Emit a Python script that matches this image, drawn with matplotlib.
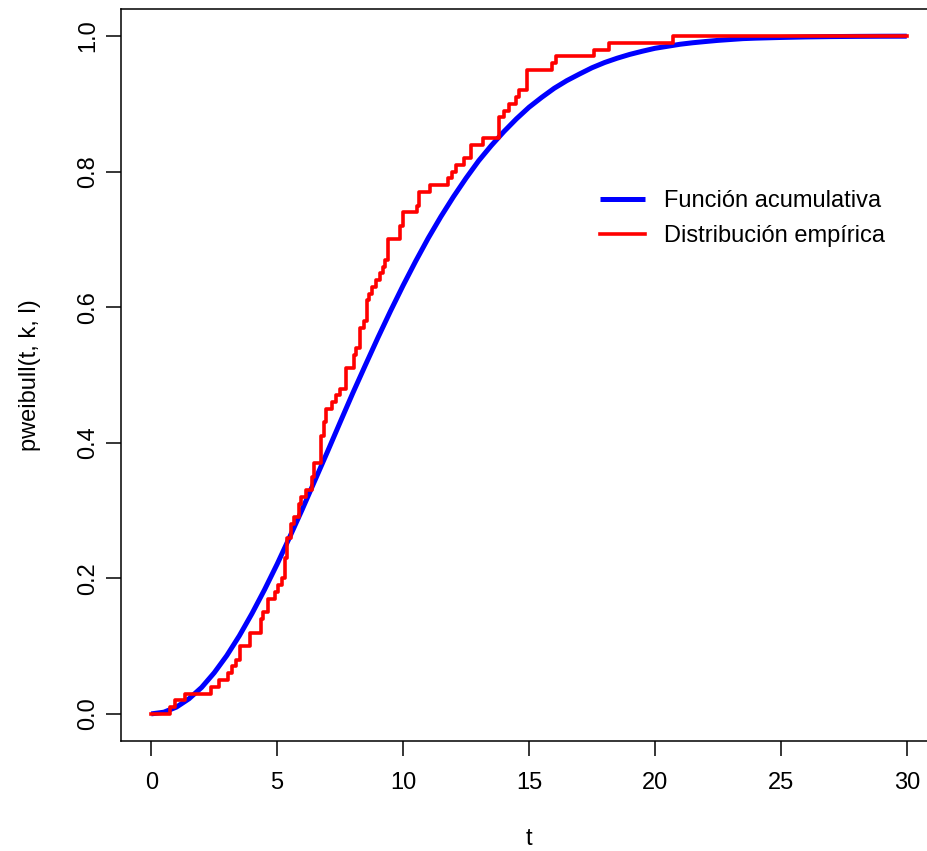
import matplotlib
matplotlib.use("Agg")
import matplotlib.pyplot as plt

# Theoretical CDF
t_cdf = [0, 0.5, 1, 1.5, 2, 2.5, 3, 3.5, 4, 4.5, 5, 5.5, 6, 6.5, 7, 7.5, 8, 8.5, 9, 9.5,
         10, 10.5, 11, 11.5, 12, 12.5, 13, 13.5, 14, 14.5, 15, 15.5, 16, 16.5, 17, 17.5,
         18, 18.5, 19, 19.5, 20, 20.5, 21, 21.5, 22, 22.5, 23, 23.5, 24, 25, 26, 27,
         28, 29, 30]
F_cdf = [0.0, 0.0025, 0.010, 0.0223, 0.039, 0.0606, 0.086, 0.1153, 0.148, 0.1833,
         0.221, 0.2610, 0.302, 0.3445, 0.387, 0.4302, 0.473, 0.5143, 0.555, 0.5943,
         0.632, 0.6679, 0.702, 0.7336, 0.763, 0.7904, 0.816, 0.8384, 0.859, 0.8779,
         0.895, 0.9095, 0.923, 0.9343, 0.944, 0.9533, 0.961, 0.9674, 0.973, 0.9777,
         0.982, 0.9850, 0.988, 0.9902, 0.992, 0.9937, 0.995, 0.9963, 0.997, 0.998,
         0.9988, 0.9993, 0.9996, 0.9998, 0.9999]

# Empirical step function: jump positions and levels after each jump
t_emp = [0.0, 0.73, 0.95, 1.35, 2.37, 2.70, 3.06, 3.20, 3.37, 3.53, 3.93, 4.35, 4.45,
         4.64, 4.91, 5.05, 5.18, 5.30, 5.40, 5.54, 5.67, 5.85, 5.94, 6.15, 6.37,
         6.47, 6.75, 6.86, 6.94, 7.17, 7.34, 7.50, 7.72, 8.05, 8.13, 8.27, 8.43,
         8.58, 8.66, 8.76, 8.93, 9.09, 9.22, 9.29, 9.42, 9.88, 9.99, 10.54, 10.65,
         11.07, 11.80, 11.93, 12.10, 12.40, 12.69, 13.19, 13.79, 14.00, 14.22,
         14.48, 14.62, 14.91, 15.90, 16.07, 17.58, 18.19, 20.73, 30.0]
F_emp = [0.0, 0.01, 0.02, 0.03, 0.04, 0.05, 0.06, 0.07, 0.08, 0.10, 0.12, 0.14, 0.15,
         0.17, 0.18, 0.19, 0.20, 0.23, 0.26, 0.28, 0.29, 0.31, 0.32, 0.33, 0.35,
         0.37, 0.41, 0.43, 0.45, 0.46, 0.47, 0.48, 0.51, 0.53, 0.54, 0.57, 0.58,
         0.61, 0.62, 0.63, 0.64, 0.65, 0.66, 0.67, 0.70, 0.72, 0.74, 0.75, 0.77,
         0.78, 0.79, 0.80, 0.81, 0.82, 0.84, 0.85, 0.88, 0.89, 0.90,
         0.91, 0.92, 0.95, 0.96, 0.97, 0.98, 0.99, 1.00, 1.00]

x_ticks = [0, 5, 10, 15, 20, 25, 30]
y_ticks = [0.0, 0.2, 0.4, 0.6, 0.8, 1.0]
y_tick_labels = ["0.0", "0.2", "0.4", "0.6", "0.8", "1.0"]

plt.rcParams['font.family'] = ['Liberation Sans', 'DejaVu Sans']

W, H = 927, 851
FS = 17
fig = plt.figure(figsize=(W / 100, H / 100), dpi=100)
ax = fig.add_axes([121 / W, (H - 741) / H, 816 / W, 732 / H])

ax.plot(t_cdf, F_cdf, color="#0000FF", lw=3.6, solid_capstyle="butt",
        label="Función acumulativa")
ax.step(t_emp, F_emp, where="post", color="#FF0000", lw=2.6,
        label="Distribución empírica")

ax.set_xlim(-1.2, 31.2)
ax.set_ylim(-0.04, 1.04)
ax.set_xticks(x_ticks)
ax.set_xticklabels([str(v) for v in x_ticks])
ax.set_yticks(y_ticks)
ax.set_yticklabels(y_tick_labels, rotation=90, va="center")

for s in ax.spines.values():
    s.set_linewidth(1.1)
ax.tick_params(axis="both", length=11, width=1.1, labelsize=FS, color="black")
ax.tick_params(axis="x", pad=11)
ax.tick_params(axis="y", pad=5)

ax.set_xlabel("t", fontsize=FS)
ax.set_ylabel("pweibull(t, k, l)", fontsize=FS)
ax.xaxis.set_label_coords(0.5, (741 - 828) / 732)
ax.yaxis.set_label_coords((41 - 121) / 816, 0.5)

ax.legend(loc="upper left", bbox_to_anchor=((591 - 121) / 816, (741 - 181) / 732),
          frameon=False, fontsize=FS, handlelength=1.9, handletextpad=0.8,
          labelspacing=0.55, borderaxespad=0)

fig.savefig("out.png", dpi=100)
